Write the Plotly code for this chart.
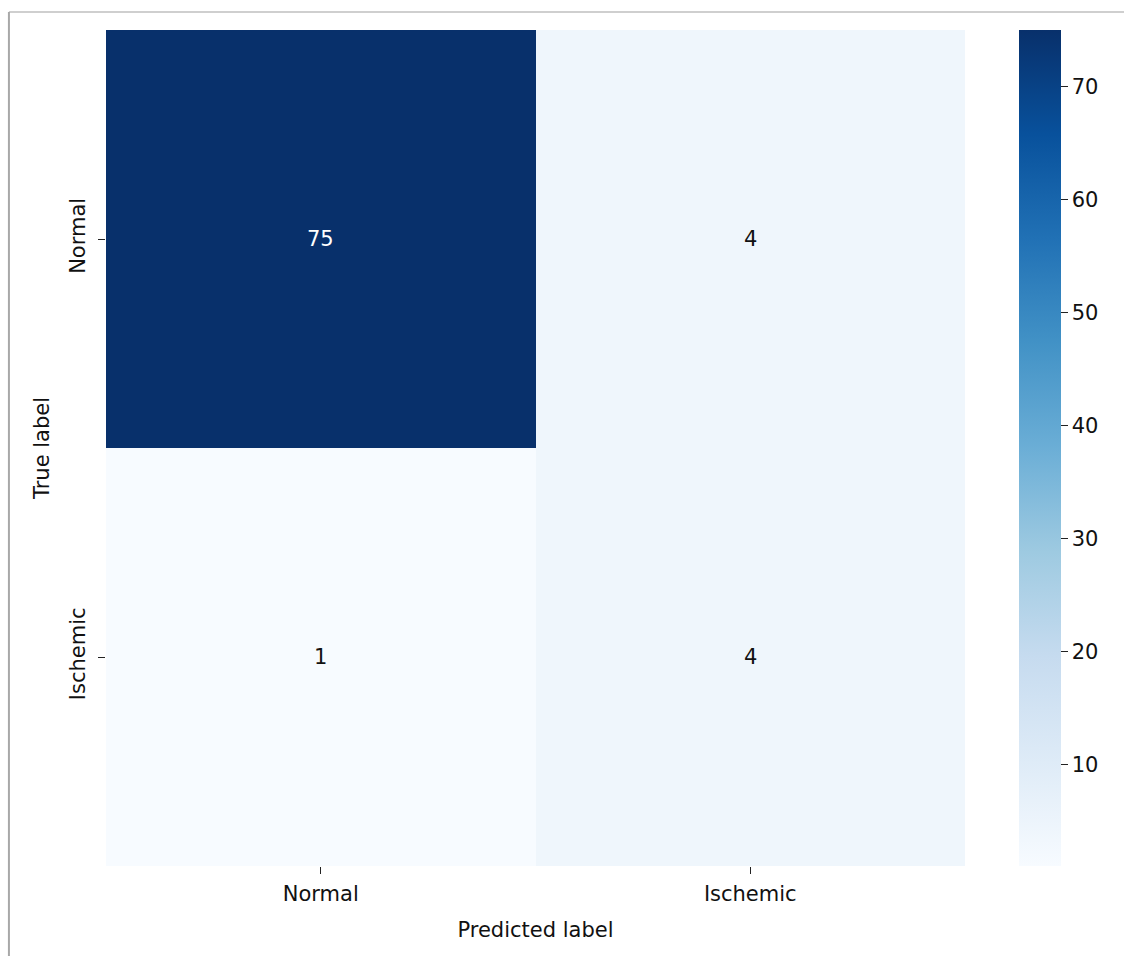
import plotly.graph_objects as go

pred_labels = ["Normal", "Ischemic"]
true_labels = ["Normal", "Ischemic"]
counts = [[75, 4],
          [1, 4]]
cbar_ticks = [10, 20, 30, 40, 50, 60, 70]

FONT = "DejaVu Sans"
zmin = min(min(r) for r in counts)
zmax = max(max(r) for r in counts)

fig = go.Figure(go.Heatmap(
    z=counts, x=pred_labels, y=true_labels,
    colorscale="Blues", zmin=zmin, zmax=zmax,
    xgap=0, ygap=0, showscale=True,
    colorbar=dict(
        x=1.063, xanchor="left", xpad=0, ypad=0,
        y=0.5, yanchor="middle", len=1.0, lenmode="fraction",
        thickness=42, thicknessmode="pixels",
        outlinewidth=0,
        tickvals=cbar_ticks, ticks="outside", ticklen=7, tickwidth=1.2,
        tickcolor="#222", tickfont=dict(family=FONT, size=21, color="#111"),
    ),
))

annotations = []
thresh = (zmax + zmin) / 2
for i, row in enumerate(counts):
    for j, v in enumerate(row):
        annotations.append(dict(
            x=pred_labels[j], y=true_labels[i], text=str(v), showarrow=False,
            font=dict(family=FONT, size=21, color="white" if v > thresh else "#111"),
        ))

fig.update_layout(
    width=1124, height=956,
    margin=dict(l=106, r=159, t=30, b=90),
    paper_bgcolor="white", plot_bgcolor="white",
    annotations=annotations,
    xaxis=dict(
        title=dict(text="Predicted label", font=dict(family=FONT, size=21, color="#111"), standoff=17),
        tickfont=dict(family=FONT, size=21, color="#111"),
        ticklabelstandoff=2,
        ticks="outside", ticklen=7, tickwidth=1.2, tickcolor="#222",
        showgrid=False, zeroline=False, showline=False,
    ),
    yaxis=dict(
        title=dict(text="True label", font=dict(family=FONT, size=21, color="#111"), standoff=10),
        tickfont=dict(family=FONT, size=21, color="#111"),
        tickangle=-90,
        ticklabelstandoff=5,
        autorange="reversed",
        ticks="outside", ticklen=7, tickwidth=1.2, tickcolor="#222",
        showgrid=False, zeroline=False, showline=False,
    ),
    shapes=[
        dict(type="line", xref="paper", yref="paper", x0=-0.113, x1=1.2, y0=1.0215, y1=1.0215,
             line=dict(color="#cfcfcf", width=2)),
        dict(type="line", xref="paper", yref="paper", x0=-0.113, x1=-0.113, y0=-0.12, y1=1.0215,
             line=dict(color="#a8a8a8", width=2)),
    ],
)

fig.write_html("out.html")
